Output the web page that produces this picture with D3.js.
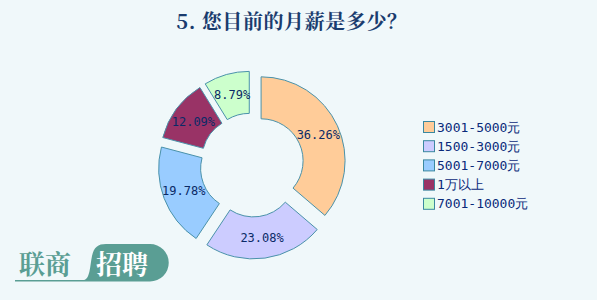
<!DOCTYPE html>
<html><head><meta charset="utf-8">
<script src="https://cdn.jsdelivr.net/npm/d3@7"></script>
<style>body{margin:0;background:#f0f8fa;}svg{display:block;}</style>
</head><body>
<script>
const categories = ["3001-5000元","1500-3000元","5001-7000元","1万以上","7001-10000元"];
const values = [36.26, 23.08, 19.78, 12.09, 8.79];
const colors = ["#ffcc99","#ccccff","#99ccff","#993366","#ccffcc"];
const title = "5. 您目前的月薪是多少？";

const W = 597, H = 300;
const svg = d3.select("body").append("svg").attr("width", W).attr("height", H);
svg.append("rect").attr("width", W).attr("height", H).attr("fill", "#f0f8fa");

svg.append("text").attr("x", 292).attr("y", 29).attr("text-anchor", "middle")
  .attr("font-family", "'Noto Serif CJK SC','Noto Sans CJK SC',serif").attr("font-weight", "bold")
  .attr("font-size", 20).attr("letter-spacing", 0.6).attr("fill", "#1a3c6e").text(title);

const cx = 252, cy = 165, R = 84, r = 42, explode = 10;
const pie = d3.pie().sort(null).value(d => d)(values);
const arc = d3.arc().innerRadius(r).outerRadius(R);
const g = svg.append("g").attr("transform", `translate(${cx},${cy})`);
const slices = g.selectAll("g.s").data(pie).enter().append("g")
  .attr("transform", d => { const a = (d.startAngle + d.endAngle) / 2; return `translate(${explode*Math.sin(a)},${-explode*Math.cos(a)})`; });
slices.append("path").attr("d", arc).attr("fill", (d, i) => colors[i])
  .attr("stroke", "#4a92aa").attr("stroke-width", 1);
slices.append("text").attr("transform", d => `translate(${arc.centroid(d)})`)
  .attr("text-anchor", "middle").attr("dy", "0.35em")
  .attr("font-family", "'DejaVu Sans Mono',monospace").attr("font-size", 12)
  .attr("fill", "#0a2a66").text(d => d.data.toFixed(2) + "%");

const leg = svg.append("g").attr("transform", "translate(423,127)");
categories.forEach((c, i) => {
  const row = leg.append("g").attr("transform", `translate(0,${i*19.2})`);
  row.append("rect").attr("x", 0.5).attr("y", -5.5).attr("width", 11).attr("height", 11)
    .attr("fill", colors[i]).attr("stroke", "#3a88a0").attr("stroke-width", 1);
  row.append("text").attr("x", 14).attr("y", 0).attr("dy", "0.36em")
    .attr("font-family", "'DejaVu Sans Mono',monospace").attr("font-size", 13)
    .attr("fill", "#0a2a7a").text(c);
});

// logo
const logo = svg.append("g");
logo.append("path")
  .attr("d", "M15,280 L84,280 C90,279 90,266 92,256 C94,247 98,244 106,244 L150,244 A18.5,18.5 0 0 1 150,281.5 L15,281.5 Z")
  .attr("fill", "#5a9e94");
logo.append("text").attr("x", 19).attr("y", 274).attr("font-family", "'Noto Serif CJK SC','Noto Sans CJK SC',serif")
  .attr("font-weight", "bold").attr("font-size", 26).attr("fill", "#5a9e94").text("联商");
logo.append("text").attr("x", 96).attr("y", 274).attr("font-family", "'Noto Serif CJK SC','Noto Sans CJK SC',serif")
  .attr("font-weight", "bold").attr("font-size", 26).attr("fill", "#ffffff").text("招聘");
</script>
</body></html>
